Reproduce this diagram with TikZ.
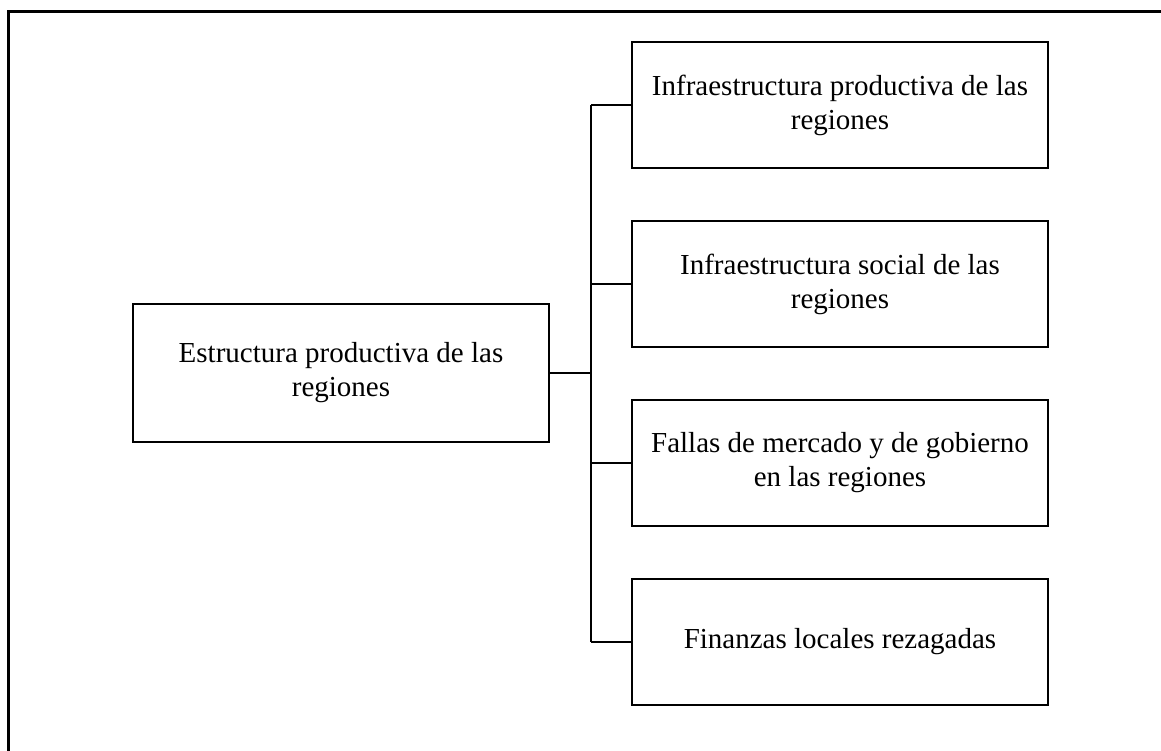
\documentclass[tikz,border=0pt]{standalone}
\usepackage{fontspec}
\setmainfont{Liberation Serif}
\usetikzlibrary{positioning}

\tikzstyle{cell} = [minimum height=126pt, minimum width=416pt,rectangle,align=center,style={draw,line width=2.2pt}]
\tikzstyle{root} = [minimum height=138pt, minimum width=416pt,rectangle,align=center,style={draw,line width=2.2pt}]
\tikzstyle{fil} = [-,style={line width=2.2pt}]

\begin{document}
\begin{tikzpicture}[x=1pt, y=-1pt, font=\fontsize{29}{34}\selectfont]
\useasboundingbox (0,0) rectangle (1161,751);
% Frame
	\draw[line width=3pt] (8,751) -- (8,12) -- (1161,12);

% Root cell
	\node[root] at (341,373) (estr) {Estructura productiva de las\\regiones};

% Right cells
	\node[cell] at (840,105) (infprod) {Infraestructura productiva de las\\regiones};
	\node[cell] at (840,284) (infsoc) {Infraestructura social de las\\regiones};
	\node[cell] at (840,463) (fallas) {Fallas de mercado y de gobierno\\en las regiones};
	\node[cell] at (840,642) (finanzas) {Finanzas locales rezagadas};

% Bus
	\coordinate (bus) at (591,373);
	\coordinate (bustop) at (591,105);
	\coordinate (busbot) at (591,642);
	\draw[fil] (estr.east) -- (bus);
	\draw[fil] (bustop) -- (busbot);
	\draw[fil] (bustop) -- (infprod.west);
	\draw[fil] (bus |- infsoc.west) -- (infsoc.west);
	\draw[fil] (bus |- fallas.west) -- (fallas.west);
	\draw[fil] (busbot) -- (finanzas.west);

\end{tikzpicture}
\end{document}
